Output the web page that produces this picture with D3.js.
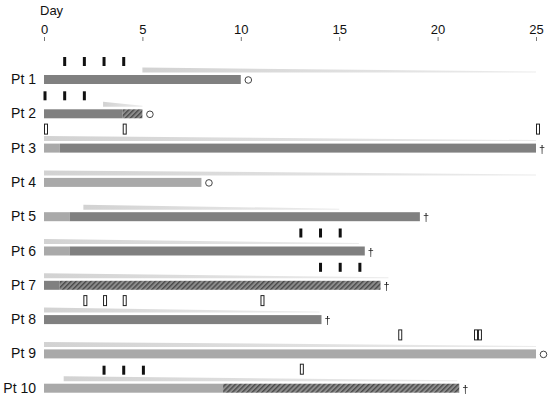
<!DOCTYPE html>
<html>
<head>
<meta charset="utf-8">
<script src="https://cdn.jsdelivr.net/npm/d3@7"></script>
<style>
  body { margin: 0; background: #fff; }
  svg { font-family: "Liberation Sans", Arial, sans-serif; }
</style>
</head>
<body>
<div id="chart"></div>
<script>
// patients, top to bottom
const patients = ["Pt 1", "Pt 2", "Pt 3", "Pt 4", "Pt 5", "Pt 6", "Pt 7", "Pt 8", "Pt 9", "Pt 10"];

// bar segments per patient: [start, end, kind]
const segments = [
    [[0, 10, "dark"]],
    [[0, 4, "dark"], [4, 5, "hatch"]],
    [[0, 0.8, "light"], [0.8, 25, "dark"]],
    [[0, 8, "light"]],
    [[0, 1.3, "light"], [1.3, 19.1, "dark"]],
    [[0, 1.3, "light"], [1.3, 16.3, "dark"]],
    [[0, 0.8, "dark"], [0.8, 17.1, "hatch"]],
    [[0, 14.1, "dark"]],
    [[0, 25, "light"]],
    [[0, 9.1, "light"], [9.1, 21.1, "hatch"]]
];

// outcome at end of bar
const outcomes = ["alive", "alive", "dead", "alive", "dead", "dead", "dead", "dead", "alive", "dead"];

// tapering wedge above each bar: [start, end]
const wedges = [[5, 25], [3, 5], [0, 25], [0, 25], [2, 15], [0, 16], [0, 17.5], [0, 14], [0, 25], [1, 21]];

// event days
const solidTicks = [[1, 2, 3, 4], [0, 1, 2], [], [], [], [13, 14, 15], [14, 15, 16], [], [], [3, 4, 5]];
const hollowTicks = [[], [], [0, 4, 25], [], [], [], [], [2, 3, 4, 11], [18, 21.85, 22.05], [13]];

const axisTicks = [0, 5, 10, 15, 20, 25];

const svgWidth = 550;
const svgHeight = 399;
const barH = 9;

const svg = d3.select("#chart")
    .append("svg")
    .attr("width", svgWidth)
    .attr("height", svgHeight);

const defs = svg.append("defs");

const pat = defs.append("pattern")
    .attr("id", "hatch")
    .attr("patternUnits", "userSpaceOnUse")
    .attr("width", 3.5)
    .attr("height", 3.5)
    .attr("patternTransform", "rotate(45)");
pat.append("rect").attr("width", 3.5).attr("height", 3.5).attr("fill", "#8c8c8c");
pat.append("rect").attr("width", 1.4).attr("height", 3.5).attr("fill", "#4a4a4a");

const grad = defs.append("linearGradient")
    .attr("id", "wedgeGrad")
    .attr("x1", "0%").attr("x2", "100%");
grad.append("stop").attr("offset", "0%").attr("stop-color", "#d2d2d2");
grad.append("stop").attr("offset", "100%").attr("stop-color", "#ececec");

// plain filter so the small glyphs are drawn in grey, not with colour fringes
defs.append("filter")
    .attr("id", "flat")
    .append("feOffset").attr("dx", 0).attr("dy", 0);

const xScale = d3.scaleLinear()
    .domain([0, 25])
    .range([44, 536]);

const yScale = d3.scaleBand()
    .domain(patients)
    .range([62, 405]);

const barTop = p => yScale(p) + 13;

const fills = { dark: "#808080", light: "#a9a9a9", hatch: "url(#hatch)" };

// axis
svg.append("text")
    .attr("x", 40)
    .attr("y", 15)
    .attr("font-size", 13)
    .attr("fill", "#111")
    .text("Day");

const xAxis = d3.axisTop(xScale).tickValues(axisTicks).tickSize(4).tickPadding(3);
const axisG = svg.append("g")
    .attr("transform", "translate(0,41)")
    .call(xAxis);
axisG.select(".domain").remove();
axisG.selectAll(".tick line").attr("stroke", "#777");
axisG.selectAll(".tick text")
    .attr("font-size", 13)
    .attr("font-family", "Liberation Sans, Arial, sans-serif")
    .attr("fill", "#111");

const rows = svg.selectAll("g.row")
    .data(patients)
    .enter().append("g")
    .attr("class", "row");

// labels
rows.append("text")
    .attr("x", 36)
    .attr("y", d => barTop(d) + 9)
    .attr("text-anchor", "end")
    .attr("font-size", 14)
    .attr("fill", "#111")
    .text(d => d);

// wedges
rows.append("path")
    .attr("fill", "url(#wedgeGrad)")
    .attr("d", (d, i) => {
        const x0 = xScale(wedges[i][0]);
        const x1 = xScale(wedges[i][1]);
        const yb = barTop(d) - 2.5;
        return "M" + x0 + "," + (yb - 5) + "L" + x1 + "," + (yb - 1) + "L" + x1 + "," + yb + "L" + x0 + "," + yb + "Z";
    });

// bars
rows.each(function (d, i) {
    d3.select(this).selectAll("rect.seg")
        .data(segments[i])
        .enter().append("rect")
        .attr("class", "seg")
        .attr("x", s => xScale(s[0]))
        .attr("y", barTop(d))
        .attr("width", s => xScale(s[1]) - xScale(s[0]))
        .attr("height", barH)
        .attr("fill", s => fills[s[2]]);

    d3.select(this).selectAll("rect.solid")
        .data(solidTicks[i])
        .enter().append("rect")
        .attr("class", "solid")
        .attr("x", t => xScale(t) - 0.5)
        .attr("y", barTop(d) - 18)
        .attr("width", 3)
        .attr("height", 9)
        .attr("fill", "#111");

    d3.select(this).selectAll("rect.hollow")
        .data(hollowTicks[i])
        .enter().append("rect")
        .attr("class", "hollow")
        .attr("x", t => xScale(t) + 0.5)
        .attr("y", barTop(d) - 19.5)
        .attr("width", 3)
        .attr("height", 10)
        .attr("fill", "#fff")
        .attr("stroke", "#222")
        .attr("stroke-width", 1);

    const end = d3.max(segments[i], s => s[1]);
    if (outcomes[i] === "alive") {
        d3.select(this).append("circle")
            .attr("cx", xScale(end) + 7.5)
            .attr("cy", barTop(d) + 5)
            .attr("r", 3.3)
            .attr("fill", "none")
            .attr("stroke", "#444")
            .attr("stroke-width", 1);
    } else {
        d3.select(this).append("text")
            .attr("x", xScale(end) + 3)
            .attr("y", barTop(d) + 9)
            .attr("font-size", 11)
            .attr("fill", "#222")
            .attr("filter", "url(#flat)")
            .text("\u2020");
    }
});
</script>
</body>
</html>
